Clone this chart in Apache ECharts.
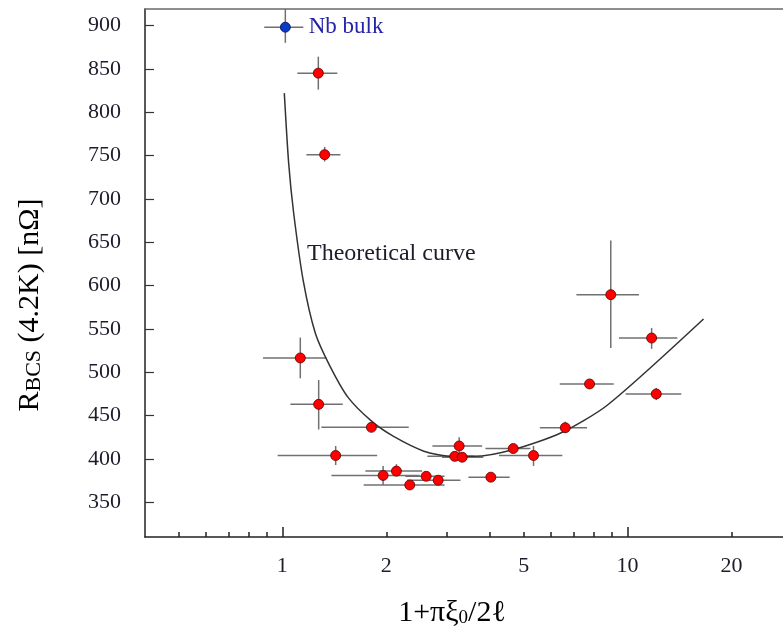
<!DOCTYPE html>
<html>
<head>
<meta charset="utf-8">
<script src="https://cdn.jsdelivr.net/npm/echarts@6/dist/echarts.min.js"></script>
<style>
html, body { margin: 0; padding: 0; background: #fff; }
#chart { width: 783px; height: 628px; }
</style>
</head>
<body>
<div id="chart"></div>
<script>
// x = 1+πξ0/2ℓ , y = R_BCS(4.2K) in nΩ
const bulkX = [1.02];
const bulkY = [898];
const bulkXErr = [[0.886, 1.15]];
const bulkYErr = [[880, 919]];

const filmX = [1.271, 1.326, 1.127, 1.274, 1.811, 1.427, 1.958, 2.14, 2.339, 2.61, 2.827,
  3.158, 3.318, 3.252, 4.017, 4.664, 5.34, 6.6, 7.76, 8.94, 11.74, 12.11];
const filmY = [845, 751, 516.5, 463, 436.5, 404, 381, 386, 370, 380, 375.5,
  403, 402, 415, 379, 412, 404, 436, 486.5, 589.5, 539.5, 475];
const filmXErr = [[1.105, 1.443], [1.174, 1.473], [0.879, 1.341], [1.055, 1.496], [1.297, 2.323],
  [0.969, 1.882], [1.387, 2.5], [1.74, 2.54], [1.72, 2.95], [2.27, 2.95], [2.3, 3.28],
  [2.63, 3.6], [2.9, 3.82], [2.72, 3.79], [3.46, 4.555], [3.876, 5.23], [4.24, 6.47],
  [5.57, 7.63], [6.36, 9.12], [7.11, 10.79], [9.44, 13.94], [9.87, 14.31]];
const filmYErr = [[826, 864], [743, 760], [493, 540], [434, 491], [433, 440],
  [393, 415], [370, 392], [380, 394], [370, 370], [377, 383], [372, 379],
  [399, 407], [398, 406], [405, 425], [376, 382], [407, 416], [392, 415],
  [430, 443], [482, 491], [528, 652], [527, 551], [468, 482]];

// theoretical curve
const curveX = [1.013, 1.043, 1.078, 1.15, 1.246, 1.37, 1.55, 1.82, 2.1, 2.57, 3.07, 3.59, 4.68, 6.4, 8.73, 16.6];
const curveY = [822, 741, 684, 605, 545, 508, 471, 443, 426, 409, 403, 403, 411, 430, 462, 561.5];

// axis ticks / labels
const xLabelVals = [1, 2, 5, 10, 20];
const xMajorTicks = [1, 10];
const xMinorTicks = [0.5, 0.6, 0.7, 0.8, 0.9, 2, 3, 4, 5, 6, 7, 8, 9, 20];
const yTickVals = [350, 400, 450, 500, 550, 600, 650, 700, 750, 800, 850, 900];

const serif = '"Liberation Serif", "DejaVu Serif", serif';
const textColor = '#1c1c2c';

const mychart = echarts.init(document.getElementById('chart'));

function errRows(xs, ys, xe, ye) {
  return xs.map((x, i) => [x, ys[i], xe[i][0], xe[i][1], ye[i][0], ye[i][1]]);
}

function renderErr(params, api) {
  const x = api.value(0), y = api.value(1);
  const l = api.coord([api.value(2), y]);
  const r = api.coord([api.value(3), y]);
  const b = api.coord([x, api.value(4)]);
  const t = api.coord([x, api.value(5)]);
  const st = { stroke: '#707070', lineWidth: 1.5 };
  return {
    type: 'group',
    children: [
      { type: 'line', shape: { x1: l[0], y1: l[1], x2: r[0], y2: r[1] }, style: st },
      { type: 'line', shape: { x1: b[0], y1: b[1], x2: t[0], y2: t[1] }, style: st },
    ],
  };
}

// the plot runs off the right edge of the picture (~28 at x = 783)
const xAxisBase = {
  type: 'log',
  logBase: 10,
  min: 0.4,
  max: 28.2,
  position: 'bottom',
  axisLine: { onZero: false },
  splitLine: { show: false },
};

const option = {
  animation: false,
  backgroundColor: '#fff',
  grid: {
    left: 145,
    top: 9,
    right: 0,
    bottom: 91,
  },
  xAxis: [
    Object.assign({}, xAxisBase, {
      axisLine: { show: true, onZero: false, lineStyle: { color: '#222', width: 1.5 } },
      axisTick: { show: true, inside: true, length: 10, customValues: xMajorTicks, lineStyle: { color: '#222', width: 1.5 } },
      axisLabel: {
        customValues: xLabelVals,
        margin: 18,
        fontFamily: serif,
        fontSize: 22,
        color: textColor,
      },
    }),
    Object.assign({}, xAxisBase, {
      axisLine: { show: false, onZero: false },
      axisTick: { show: true, inside: true, length: 5, customValues: xMinorTicks, lineStyle: { color: '#222', width: 1.5 } },
      axisLabel: { show: false },
    }),
    // top frame line
    Object.assign({}, xAxisBase, {
      position: 'top',
      axisLine: { show: true, onZero: false, lineStyle: { color: '#6a6a6a', width: 1.5 } },
      axisTick: { show: false },
      axisLabel: { show: false },
    }),
  ],
  yAxis: {
    type: 'value',
    min: 310,
    max: 919,
    splitLine: { show: false },
    axisLine: { show: true, onZero: false, lineStyle: { color: '#222', width: 1.5 } },
    axisTick: { show: true, inside: true, length: 9, customValues: yTickVals, lineStyle: { color: '#333', width: 1.2 } },
    axisLabel: {
      customValues: yTickVals,
      margin: 24,
      fontFamily: serif,
      fontSize: 22,
      color: textColor,
    },
  },
  series: [
    {
      type: 'custom',
      renderItem: renderErr,
      data: errRows(filmX, filmY, filmXErr, filmYErr).concat(errRows(bulkX, bulkY, bulkXErr, bulkYErr)),
      encode: { x: 0, y: 1 },
      z: 1,
      silent: true,
    },
    {
      type: 'line',
      data: curveX.map((x, i) => [x, curveY[i]]),
      smooth: 0.25,
      symbol: 'none',
      lineStyle: { color: '#333', width: 1.5 },
      z: 2,
    },
    {
      type: 'scatter',
      data: filmX.map((x, i) => [x, filmY[i]]),
      symbolSize: 10,
      itemStyle: { color: '#ff0000', borderColor: '#5a0000', borderWidth: 0.8, opacity: 1 },
      z: 3,
    },
    {
      type: 'scatter',
      data: bulkX.map((x, i) => [x, bulkY[i]]),
      symbolSize: 10,
      itemStyle: { color: '#0a3ac8', borderColor: '#001050', borderWidth: 0.8, opacity: 1 },
      label: {
        show: true,
        position: 'right',
        distance: 18,
        formatter: 'Nb bulk',
        fontFamily: serif,
        fontSize: 23,
        color: '#2424a8',
      },
      z: 3,
    },
  ],
  graphic: [
    {
      type: 'text',
      left: 307,
      top: 242,
      style: { text: 'Theoretical curve', font: '24px ' + serif, fill: textColor },
    },
    {
      type: 'text',
      x: 452,
      y: 611,
      style: {
        text: '{m|1+πξ}{s|0}{m|/2ℓ}',
        align: 'center',
        verticalAlign: 'middle',
        rich: {
          m: { fontFamily: serif, fontSize: 30, color: textColor, lineHeight: 34, verticalAlign: 'bottom' },
          s: { fontFamily: serif, fontSize: 19, color: textColor, lineHeight: 12, verticalAlign: 'bottom' },
        },
      },
    },
    {
      type: 'text',
      x: 28,
      y: 305,
      rotation: Math.PI / 2,
      style: {
        text: '{m|R}{s|BCS}{m| (4.2K) [nΩ]}',
        align: 'center',
        verticalAlign: 'middle',
        rich: {
          m: { fontFamily: serif, fontSize: 30, color: textColor, lineHeight: 34, verticalAlign: 'bottom' },
          s: { fontFamily: serif, fontSize: 22, color: textColor, lineHeight: 18, verticalAlign: 'bottom' },
        },
      },
    },
  ],
};

mychart.setOption(option);

window.addEventListener('resize', () => {
  mychart.resize();
});
</script>
</body>
</html>
